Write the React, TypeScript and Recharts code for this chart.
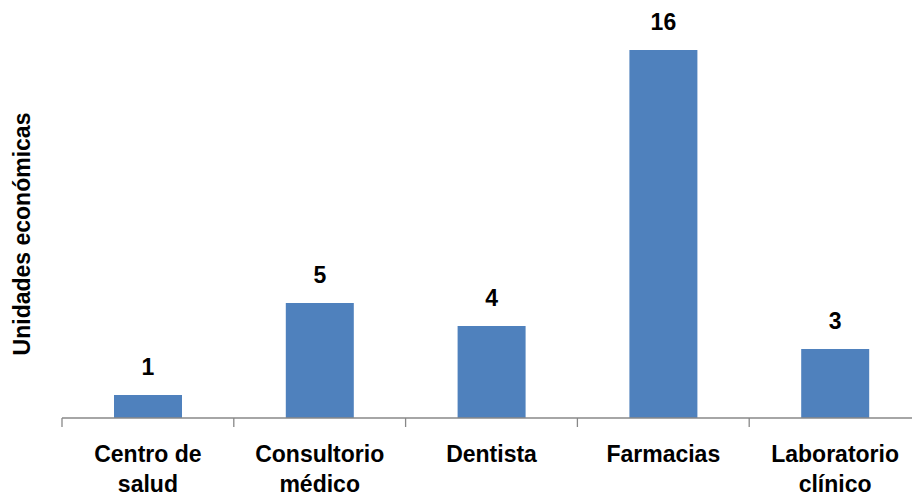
import { BarChart, Bar, XAxis, YAxis, LabelList } from "recharts";

const categories = ["Centro de salud", "Consultorio médico", "Dentista", "Farmacias", "Laboratorio clínico"];
const unidades = [1, 5, 4, 16, 3];
const yTitle = "Unidades económicas";

const data = categories.map((name, i) => ({ name, value: unidades[i] }));

const font = "'Liberation Sans', Arial, sans-serif";

// wrap long names onto two lines, at the last space
function splitLabel(s: string): string[] {
  if (s.length <= 10) return [s];
  const i = s.lastIndexOf(" ");
  return i > 0 ? [s.slice(0, i), s.slice(i + 1)] : [s];
}

function CategoryTick(props: any) {
  const { x, y, width, visibleTicksCount, payload } = props;
  const lines = splitLabel(String(payload.value));
  // tick mark sits on the left edge of each category band
  const edge = x - width / visibleTicksCount / 2;
  return (
    <g>
      <line x1={edge} y1={y} x2={edge} y2={y + 9} stroke="#888" strokeWidth={1.3} />
      <text x={x} y={y} textAnchor="middle" fontFamily={font} fontWeight="bold" fontSize={23} fill="#000">
        {lines.map((l, i) => (
          <tspan key={i} x={x} dy={i === 0 ? 44 : 30}>{l}</tspan>
        ))}
      </text>
    </g>
  );
}

function ValueLabel(props: any) {
  const { x, y, width, value } = props;
  return (
    <text x={x + width / 2} y={y - 20} textAnchor="middle" fontFamily={font} fontWeight="bold" fontSize={23} fill="#000">
      {value}
    </text>
  );
}

export default function App() {
  return (
    <div style={{ position: "absolute", left: 0, top: 0, width: 912, height: 494, overflow: "hidden", background: "#fff" }}>
      <BarChart width={921} height={494} data={data} margin={{ top: 50, right: 0, bottom: 0, left: 0 }}>
        <XAxis
          dataKey="name"
          axisLine={{ stroke: "#888", strokeWidth: 1.3 }}
          tickLine={false}
          tickSize={0}
          tickMargin={0}
          height={76}
          interval={0}
          tick={<CategoryTick />}
        />
        <YAxis
          domain={[0, 16]}
          width={62}
          axisLine={false}
          tickLine={false}
          tick={false}
          label={{
            value: yTitle,
            angle: -90,
            position: "center",
            dx: -9,
            style: { fontFamily: font, fontWeight: "bold", fontSize: 23, fill: "#000", textAnchor: "middle" },
          }}
        />
        <Bar dataKey="value" fill="#4F81BD" barSize={68} isAnimationActive={false}>
          <LabelList dataKey="value" content={<ValueLabel />} />
        </Bar>
      </BarChart>
    </div>
  );
}
